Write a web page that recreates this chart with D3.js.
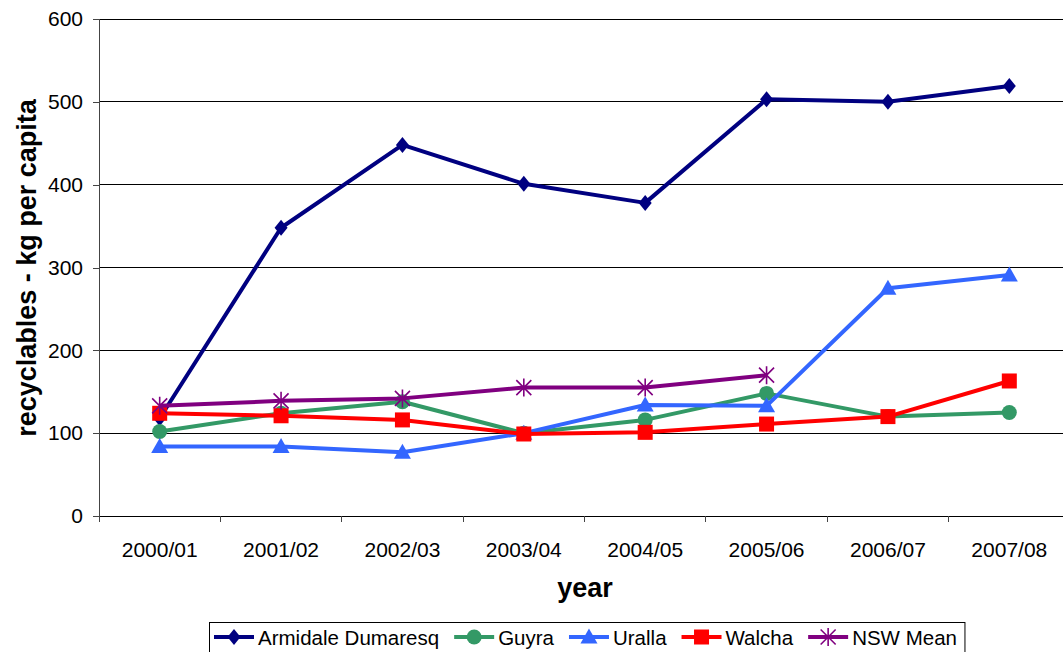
<!DOCTYPE html>
<html><head><meta charset="utf-8">
<script src="https://cdn.jsdelivr.net/npm/d3@7"></script>
<style>
body{margin:0;background:#fff;}
text{font-family:"Liberation Sans",Arial,sans-serif;}
</style></head>
<body><svg id="c" width="1063" height="652"></svg>
<script>
const years = ["2000/01","2001/02","2002/03","2003/04","2004/05","2005/06","2006/07","2007/08"];
const armidale = [118,348,448,401,378,503,500,519];
const guyra = [102,124,138,100,116,148,120,125];
const uralla = [84,84,77,100,134,133,275,291];
const walcha = [124,121,116,99,101,111,120,163];
const nswMean = [133,139,142,155,155,170,null,null];
const yTicks = [0,100,200,300,400,500,600];
const seriesNames = ["Armidale Dumaresq","Guyra","Uralla","Walcha","NSW Mean"];
const seriesColors = ["#000080","#339966","#3366FF","#FF0000","#800080"];
const seriesValues = [armidale,guyra,uralla,walcha,nswMean];
const seriesMarkers = ["diamond","circle","triangle","square","asterisk"];

const svg = d3.select("#c");
const x = d3.scaleBand().domain(years).range([99,1070]);
const y = d3.scaleLinear().domain([0,600]).range([516,19]);

svg.append("g").selectAll("line").data(yTicks.filter(d=>d>0)).join("line")
  .attr("x1",99).attr("x2",1070).attr("y1",d=>y(d)).attr("y2",d=>y(d))
  .attr("stroke","#000").attr("stroke-width",1).attr("shape-rendering","crispEdges");

const yAxis = svg.append("g").attr("transform","translate(99,0)")
  .call(d3.axisLeft(y).tickValues(yTicks).tickSize(6).tickPadding(10));
yAxis.select(".domain").attr("stroke","#444").attr("shape-rendering","crispEdges");
yAxis.selectAll(".tick line").attr("stroke","#444").attr("shape-rendering","crispEdges");
yAxis.selectAll("text").attr("font-size",21).attr("fill","#000").attr("font-family","Liberation Sans, Arial, sans-serif");

const xAxis = svg.append("g").attr("transform","translate(0,516)")
  .call(d3.axisBottom(x).tickSize(0).tickPadding(26));
xAxis.select(".domain").attr("stroke","#000").attr("shape-rendering","crispEdges");
xAxis.selectAll("text").attr("font-size",21).attr("fill","#000").attr("font-family","Liberation Sans, Arial, sans-serif");
svg.append("g").selectAll("line").data(years).join("line")
  .attr("x1",d=>x(d)).attr("x2",d=>x(d)).attr("y1",516).attr("y2",522)
  .attr("stroke","#444").attr("shape-rendering","crispEdges");

svg.append("text").attr("x",585).attr("y",597).attr("text-anchor","middle")
  .attr("font-size",27).attr("font-weight","bold").text("year");
svg.append("text").attr("transform","translate(36,268) rotate(-90)").attr("text-anchor","middle")
  .attr("font-size",27).attr("font-weight","bold").text("recyclables - kg per capita");

const cx = d => x(d)+x.bandwidth()/2;

function drawMarker(g, type, color){
  if(type==="diamond"){
    g.append("path").attr("d","M0,-8L6.5,0L0,8L-6.5,0Z").attr("fill",color);
  } else if(type==="circle"){
    g.append("circle").attr("r",7.5).attr("fill",color);
  } else if(type==="triangle"){
    g.append("path").attr("d","M0,-8.5L8.5,6.5L-8.5,6.5Z").attr("fill",color);
  } else if(type==="square"){
    g.append("rect").attr("x",-7.5).attr("y",-7.5).attr("width",15).attr("height",15).attr("fill",color);
  } else if(type==="asterisk"){
    g.append("path").attr("d","M-7.5,-7.5L7.5,7.5M-7.5,7.5L7.5,-7.5M0,-9L0,9").attr("stroke",color).attr("stroke-width",1.6).attr("fill","none");
  }
}

const line = d3.line().defined(d=>d.v!=null).x(d=>cx(d.yr)).y(d=>y(d.v));
seriesValues.forEach((vals,i)=>{
  const pts = years.map((yr,j)=>({yr,v:vals[j]}));
  const g = svg.append("g");
  g.append("path").datum(pts).attr("d",line).attr("fill","none")
    .attr("stroke",seriesColors[i]).attr("stroke-width",4).attr("stroke-linejoin","round");
  pts.filter(d=>d.v!=null).forEach(d=>{
    const m = g.append("g").attr("transform",`translate(${cx(d.yr)},${y(d.v)})`);
    drawMarker(m, seriesMarkers[i], seriesColors[i]);
  });
});

const lg = svg.append("g");
const box = lg.append("rect").attr("y",622.5).attr("height",30).attr("fill","#fff").attr("stroke","#000").attr("stroke-width",1);
let lx = 214;
seriesNames.forEach((n,i)=>{
  const it = lg.append("g");
  it.append("line").attr("x1",lx).attr("x2",lx+40).attr("y1",637).attr("y2",637).attr("stroke",seriesColors[i]).attr("stroke-width",4);
  const m = it.append("g").attr("transform",`translate(${lx+20},637)`);
  drawMarker(m, seriesMarkers[i], seriesColors[i]);
  const t = it.append("text").attr("x",lx+44).attr("y",644.5).attr("font-size",20.5).text(n);
  const w = t.node().getComputedTextLength();
  lx += 44 + w + 15;
});
box.attr("x",209.5).attr("width",lx-15+8-209.5);
</script></body></html>
